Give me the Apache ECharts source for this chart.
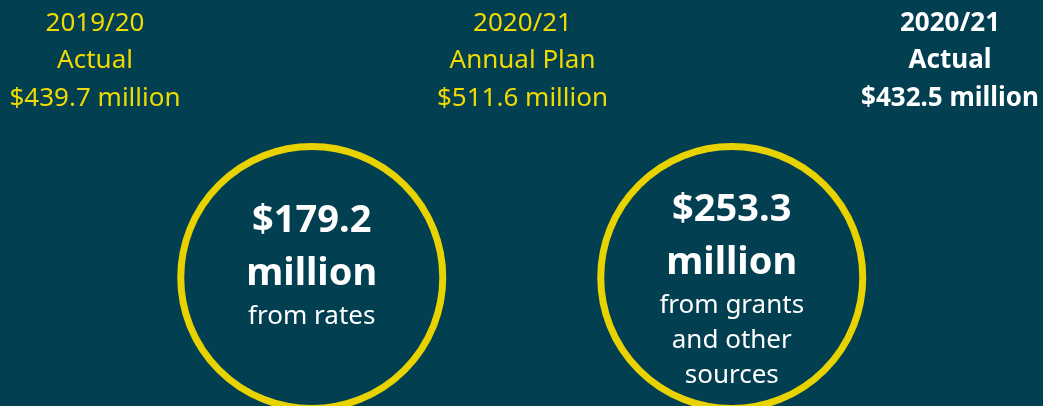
<!DOCTYPE html>
<html>
<head>
<meta charset="utf-8">
<script src="https://cdn.jsdelivr.net/npm/echarts@6/dist/echarts.min.js"></script>
<style>
html,body{margin:0;padding:0;background:#013f51;}
#chart{width:1043px;height:406px;}
</style>
</head>
<body>
<div id="chart"></div>
<script>
// Data
const slots = ['h1', 'c1', 'h2', 'c2', 'h3'];
const headerYears = ['2019/20', '2020/21', '2020/21'];
const headerKinds = ['Actual', 'Annual Plan', 'Actual'];
const headerAmounts = [439.7, 511.6, 432.5];
const circleAmounts = [179.2, 253.3];
const circleCaptions = [['from rates'], ['from grants', 'and other', 'sources']];

const YELLOW = '#f0da00';
const RING = '#e8d200';
const BG = '#013f51';
const FONT = '"Noto Sans", sans-serif';

const headerData = headerYears.map((y, i) => {
  const last = i === headerYears.length - 1;
  return {
    value: [slots[i * 2], 1],
    label: {
      formatter: y + '\n' + headerKinds[i] + '\n$' + headerAmounts[i].toFixed(1) + ' million',
      color: last ? '#ffffff' : YELLOW,
      fontWeight: last ? 'bold' : 'normal'
    }
  };
});

const circleShift = [[3, 0], [-4.5, 0]];
const circleLabelOffsets = [[0, -14], [0, 10.5]];
const circleData = circleAmounts.map((v, i) => ({
  value: [slots[i * 2 + 1], 0],
  symbolOffset: circleShift[i],
  label: {
    offset: circleLabelOffsets[i],
    formatter: '{a|$' + v.toFixed(1) + '}\n{b|million}\n' +
      circleCaptions[i].map(t => '{c|' + t + '}').join('\n')
  }
}));

const chart = echarts.init(document.getElementById('chart'));
chart.setOption({
  backgroundColor: BG,
  animation: false,
  grid: { left: 95, right: 93, top: 61, bottom: 128.5 },
  xAxis: { type: 'category', data: slots, boundaryGap: false, show: false },
  yAxis: { type: 'value', min: 0, max: 1, show: false },
  series: [
    {
      type: 'scatter',
      symbolSize: 0,
      data: headerData,
      itemStyle: { opacity: 1 },
      label: {
        show: true,
        position: 'inside',
        fontFamily: FONT,
        fontSize: 26,
        lineHeight: 37.5,
        align: 'center',
        verticalAlign: 'middle'
      },
      silent: true
    },
    {
      type: 'scatter',
      symbol: 'circle',
      symbolSize: 262,
      data: circleData,
      itemStyle: { color: BG, borderColor: RING, borderWidth: 7, opacity: 1 },
      label: {
        show: true,
        position: 'inside',
        align: 'center',
        verticalAlign: 'middle',
        color: '#ffffff',
        rich: {
          a: { fontFamily: FONT, fontSize: 38, fontWeight: 'bold', lineHeight: 56, color: '#ffffff', align: 'center' },
          b: { fontFamily: FONT, fontSize: 38, fontWeight: 'bold', lineHeight: 50, color: '#ffffff', align: 'center' },
          c: { fontFamily: FONT, fontSize: 26, lineHeight: 35, color: '#ffffff', align: 'center' }
        }
      },
      silent: true
    }
  ]
});
</script>
</body>
</html>
